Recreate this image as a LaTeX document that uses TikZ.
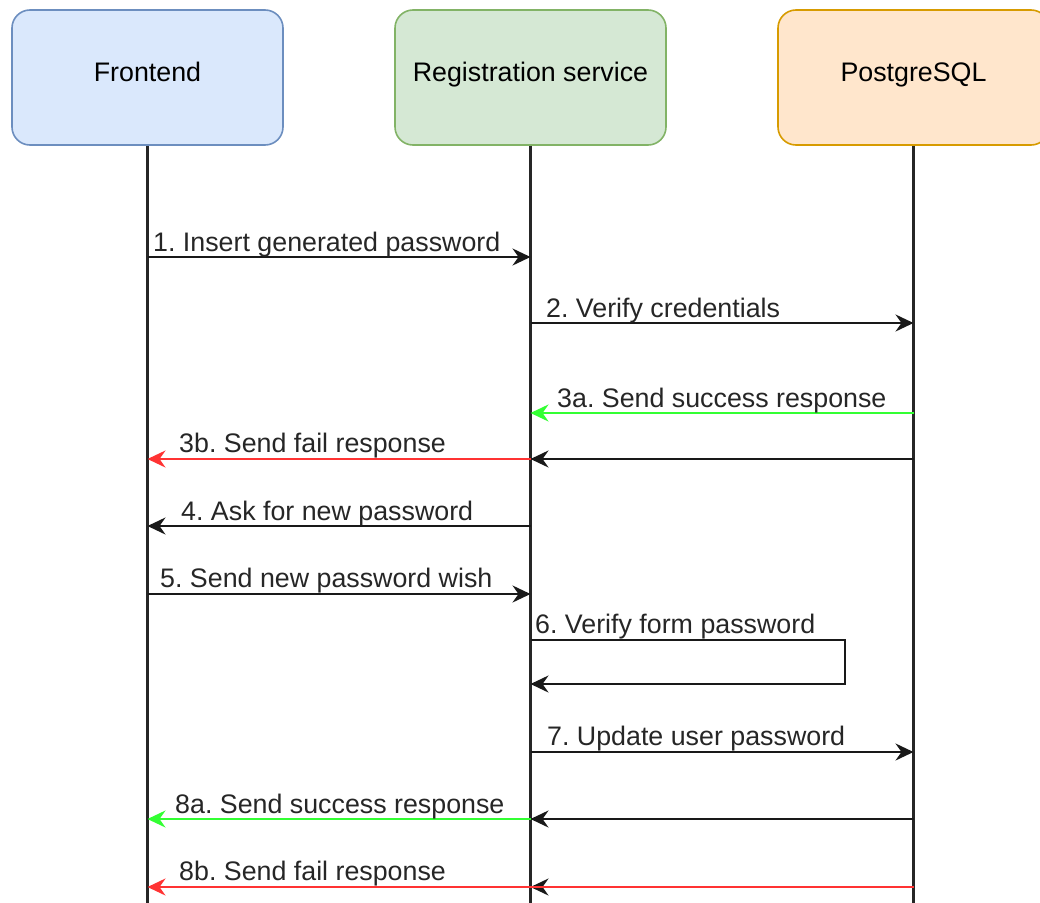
\documentclass[tikz,border=0pt]{standalone}
\usepackage{fontspec}
\setmainfont{Liberation Sans}
\frenchspacing
\usetikzlibrary{arrows.meta}
\definecolor{feFill}{HTML}{DAE8FC}
\definecolor{feLine}{HTML}{6C8EBF}
\definecolor{rsFill}{HTML}{D5E8D4}
\definecolor{rsLine}{HTML}{82B366}
\definecolor{pgFill}{HTML}{FFE6CC}
\definecolor{pgLine}{HTML}{D79B00}
\definecolor{okGreen}{HTML}{33FF33}
\definecolor{failRed}{HTML}{FF3333}
\tikzset{
  actor/.style={draw, line width=1.6pt, rounded corners=18pt,
    minimum width=271pt, minimum height=135pt, inner sep=0pt,
    text height=19.2pt, text depth=11pt,
    font=\fontsize{26.8pt}{32pt}\selectfont},
  lifeline/.style={line width=2.2pt, black!85},
  msg/.style={line width=2.2pt, black!90,
    -{Stealth[length=18pt, width=17pt, inset=6pt]}},
  okmsg/.style={msg, okGreen},
  failmsg/.style={msg, failRed},
  lbl/.style={anchor=base west, inner sep=0pt, text=black!85,
    font=\fontsize{26.8pt}{32pt}\selectfont}
}
\begin{document}
\begin{tikzpicture}[x=1pt, y=-1pt]
  \useasboundingbox (0,0) rectangle (1040,902);
  \clip (0,0) rectangle (1040,902);

  % participants
  \node[actor, fill=feFill, draw=feLine] (fe) at (147.5,77.5) {Frontend};
  \node[actor, fill=rsFill, draw=rsLine] (rs) at (530.5,77.5) {Registration service};
  \node[actor, fill=pgFill, draw=pgLine] (pg) at (913.5,77.5) {PostgreSQL};

  % lifelines
  \coordinate (bottom) at (0,905);
  \draw[lifeline] (fe.south) -- (fe |- bottom);
  \draw[lifeline] (rs.south) -- (rs |- bottom);
  \draw[lifeline] (pg.south) -- (pg |- bottom);

  % message rows
  \coordinate (m1)  at (0,257);
  \coordinate (m2)  at (0,323);
  \coordinate (m3a) at (0,413);
  \coordinate (m3b) at (0,459);
  \coordinate (m4)  at (0,526);
  \coordinate (m5)  at (0,594);
  \coordinate (m6a) at (0,640);
  \coordinate (m6b) at (0,684);
  \coordinate (m7)  at (0,752);
  \coordinate (m8a) at (0,819);
  \coordinate (m8b) at (0,887);
  \coordinate (loop) at (845,0);

  % 1
  \draw[msg] (fe |- m1) -- (rs |- m1);
  \node[lbl] (l1) at (153,251) {1. Insert generated password};
  % 2
  \draw[msg] (rs |- m2) -- (pg |- m2);
  \node[lbl] (l2) at (546,317) {2. Verify credentials};
  % 3a
  \draw[okmsg] (pg |- m3a) -- (rs |- m3a);
  \node[lbl] (l3a) at (557,407) {3a. Send success response};
  % 3b
  \draw[msg] (pg |- m3b) -- (rs |- m3b);
  \draw[failmsg] (rs |- m3b) -- (fe |- m3b);
  \node[lbl] (l3b) at (179,452) {3b. Send fail response};
  % 4
  \draw[msg] (rs |- m4) -- (fe |- m4);
  \node[lbl] (l4) at (181,520) {4. Ask for new password};
  % 5
  \draw[msg] (fe |- m5) -- (rs |- m5);
  \node[lbl] (l5) at (160,587) {5. Send new password wish};
  % 6 (self call)
  \draw[msg] (rs |- m6a) -- (loop |- m6a) -- (loop |- m6b) -- (rs |- m6b);
  \node[lbl] (l6) at (535,633) {6. Verify form password};
  % 7
  \draw[msg] (rs |- m7) -- (pg |- m7);
  \node[lbl] (l7) at (547,745) {7. Update user password};
  % 8a
  \draw[msg] (pg |- m8a) -- (rs |- m8a);
  \draw[okmsg] (rs |- m8a) -- (fe |- m8a);
  \node[lbl] (l8a) at (175,813) {8a. Send success response};
  % 8b
  \draw[msg] (pg |- m8b) -- (rs |- m8b);
  \draw[line width=2.2pt, failRed] (pg |- m8b) -- (rs |- m8b);
  \draw[failmsg] (rs |- m8b) -- (fe |- m8b);
  \node[lbl] (l8b) at (179,880) {8b. Send fail response};
\end{tikzpicture}
\end{document}
